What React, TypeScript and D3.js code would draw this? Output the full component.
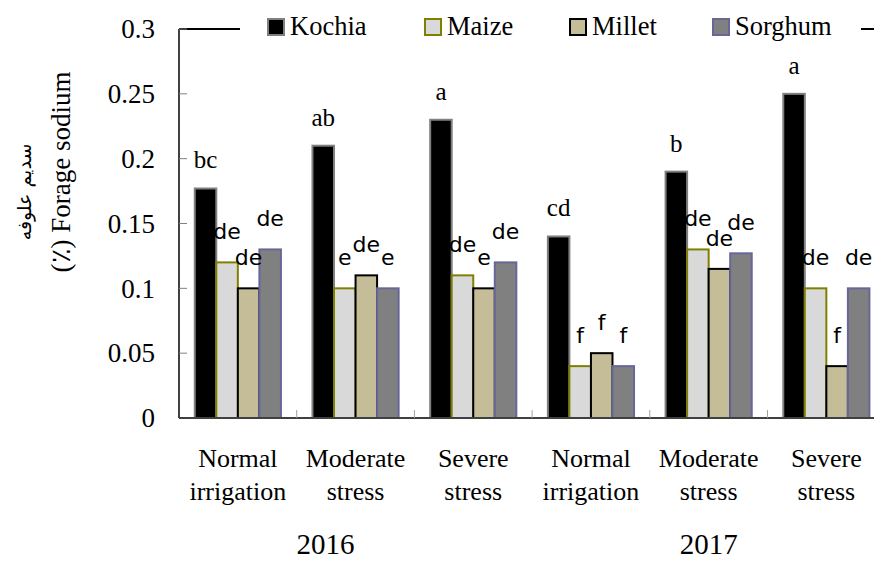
import * as d3 from "d3";

const categories = [
  ["Normal", "irrigation"],
  ["Moderate", "stress"],
  ["Severe", "stress"],
  ["Normal", "irrigation"],
  ["Moderate", "stress"],
  ["Severe", "stress"],
];
const years = ["2016", "2017"];
const seriesNames = ["Kochia", "Maize", "Millet", "Sorghum"];

const kochia = [0.177, 0.21, 0.23, 0.14, 0.19, 0.25];
const maize = [0.12, 0.1, 0.11, 0.04, 0.13, 0.1];
const millet = [0.1, 0.11, 0.1, 0.05, 0.115, 0.04];
const sorghum = [0.13, 0.1, 0.12, 0.04, 0.127, 0.1];

const kochiaLetters = ["bc", "ab", "a", "cd", "b", "a"];
const maizeLetters = ["de", "e", "de", "f", "de", "de"];
const milletLetters = ["de", "de", "e", "f", "de", "f"];
const sorghumLetters = ["de", "e", "de", "f", "de", "de"];

const yTicks = [0, 0.05, 0.1, 0.15, 0.2, 0.25, 0.3];

const seriesValues = [kochia, maize, millet, sorghum];
const seriesLetters = [kochiaLetters, maizeLetters, milletLetters, sorghumLetters];
const fills = ["#000000", "#d9d9d9", "#c4bd97", "#808080"];
const strokes = ["#808080", "#808000", "#000000", "#666699"];

const serif = "Liberation Serif, Times New Roman, serif";
const sans = "DejaVu Sans, sans-serif";

export default function App() {
  const width = 874;
  const height = 561;
  const left = 179;
  const top = 29;
  const bottom = 418;
  const step = 117.7;
  const right = left + step * categories.length;

  const idx = categories.map((_, i) => String(i));
  const x = d3.scaleBand<string>().domain(idx).range([left, right]).padding(0);
  const bw = x.bandwidth();
  const pad = bw * 0.134;
  const xs = d3
    .scaleBand<string>()
    .domain(seriesNames)
    .range([pad, bw - pad])
    .padding(0);
  const y = d3.scaleLinear().domain([0, 0.3]).range([bottom, top]);

  const fmt = (v: number) => (v === 0 ? "0" : String(v));

  // legend layout
  const legendItems = [268, 425, 570, 713];

  return (
    <svg
      width={width}
      height={height}
      style={{ position: "absolute", left: 0, top: 0, display: "block", background: "#fff" }}
    >
      {/* plot frame top */}
      <line x1={left} x2={right} y1={top} y2={top} stroke="#000" strokeWidth={2} />

      {/* bars */}
      {seriesNames.map((s, si) => (
        <g key={s}>
          {seriesValues[si].map((v, ci) => {
            const x0 = (x(String(ci)) ?? 0) + (xs(s) ?? 0);
            return (
              <rect
                key={ci}
                x={x0}
                y={y(v)}
                width={xs.bandwidth()}
                height={y(0) - y(v)}
                fill={fills[si]}
                stroke={strokes[si]}
                strokeWidth={2}
              />
            );
          })}
        </g>
      ))}

      {/* letters */}
      {seriesNames.map((s, si) => (
        <g key={s + "l"}>
          {seriesValues[si].map((v, ci) => {
            const cx = (x(String(ci)) ?? 0) + (xs(s) ?? 0) + xs.bandwidth() / 2;
            const isK = si === 0;
            return (
              <text
                key={ci}
                x={cx}
                y={y(v) - (isK ? 20 : 23)}
                textAnchor="middle"
                fontFamily={isK ? serif : sans}
                fontSize={isK ? 25 : 22}
                fill="#000"
              >
                {seriesLetters[si][ci]}
              </text>
            );
          })}
        </g>
      ))}

      {/* y axis */}
      <line x1={left} x2={left} y1={top} y2={bottom} stroke="#404040" strokeWidth={2} />
      {yTicks.map((t) => (
        <g key={t}>
          <line x1={left} x2={left + 8} y1={y(t)} y2={y(t)} stroke="#808080" strokeWidth={1} />
          <text
            x={155}
            y={y(t)}
            dy="0.34em"
            textAnchor="end"
            fontFamily={serif}
            fontSize={27}
          >
            {fmt(t)}
          </text>
        </g>
      ))}

      {/* x axis */}
      <line x1={left} x2={right} y1={bottom} y2={bottom} stroke="#404040" strokeWidth={2} />
      {idx.slice(1).map((d) => (
        <line
          key={d}
          x1={x(d)}
          x2={x(d)}
          y1={bottom}
          y2={bottom - 8}
          stroke="#a0a0a0"
          strokeWidth={1}
        />
      ))}
      {categories.map((c, i) => {
        const cx = (x(String(i)) ?? 0) + bw / 2;
        return (
          <text key={i} textAnchor="middle" fontFamily={serif} fontSize={26}>
            <tspan x={cx} y={467}>
              {c[0]}
            </tspan>
            <tspan x={cx} y={500}>
              {c[1]}
            </tspan>
          </text>
        );
      })}
      {years.map((yr, i) => {
        const cx = (x(String(i * 3 + 1)) ?? 0) + bw / 2 + (i === 0 ? -30 : 0);
        return (
          <text key={yr} x={cx} y={554} textAnchor="middle" fontFamily={serif} fontSize={29}>
            {yr}
          </text>
        );
      })}

      {/* y title */}
      <text
        transform={`translate(70,172) rotate(-90)`}
        textAnchor="middle"
        fontFamily={serif}
        fontSize={27}
      >
        (٪) Forage sodium
      </text>
      <text
        transform={`translate(31,192) rotate(-90)`}
        textAnchor="middle"
        fontFamily={sans}
        fontSize={19}
      >
        سدیم علوفه
      </text>

      {/* legend */}
      <rect x={240} y={8} width={621} height={40} fill="#fff" />
      {seriesNames.map((s, si) => (
        <g key={s + "lg"} transform={`translate(${legendItems[si]},19)`}>
          <rect
            x={0}
            y={0}
            width={16}
            height={16}
            fill={fills[si]}
            stroke={si === 0 ? "#808080" : strokes[si]}
            strokeWidth={2}
          />
          <text x={22} y={16} fontFamily={serif} fontSize={26.5}>
            {s}
          </text>
        </g>
      ))}
    </svg>
  );
}
